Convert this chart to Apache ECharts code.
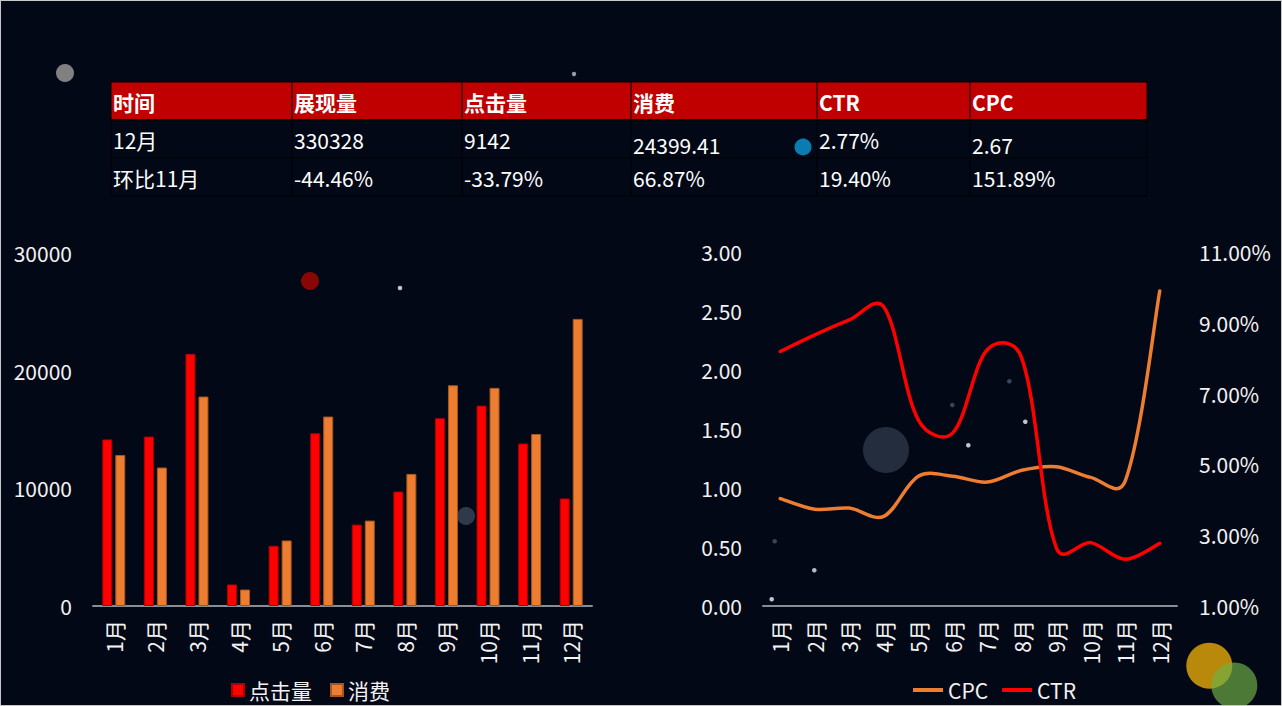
<!DOCTYPE html>
<html>
<head>
<meta charset="utf-8">
<script src="https://cdn.jsdelivr.net/npm/echarts@6/dist/echarts.min.js"></script>
<style>
html,body{margin:0;padding:0;background:#020816;}
#main{width:1282px;height:706px;}
</style>
</head>
<body>
<div id="main"></div>
<script>
// ---- data ----
const months = ['1月','2月','3月','4月','5月','6月','7月','8月','9月','10月','11月','12月'];
const clicks = [14160, 14400, 21430, 1830, 5120, 14680, 6920, 9730, 15960, 17030, 13810, 9142];
const spend  = [12830, 11770, 17800, 1400, 5570, 16100, 7260, 11230, 18760, 18540, 14620, 24399.41];
const cpc    = [0.91, 0.82, 0.83, 0.76, 1.10, 1.10, 1.05, 1.15, 1.18, 1.09, 1.06, 2.67];
const ctr    = [8.19, 8.66, 9.08, 9.45, 6.26, 5.89, 8.24, 8.00, 2.65, 2.79, 2.32, 2.77]; // percent
const leftTicks  = [0, 10000, 20000, 30000];
const cpcTicks   = [0, 0.5, 1, 1.5, 2, 2.5, 3];
const ctrTicks   = [1, 3, 5, 7, 9, 11];

const tableHeader = ['时间','展现量','点击量','消费','CTR','CPC'];
const tableRow12  = ['12月','330328','9142','24399.41','2.77%','2.67'];
const tableRowMoM = ['环比11月','-44.46%','-33.79%','66.87%','19.40%','151.89%'];

// ---- layout / style ----
const FONT = '"Noto Sans CJK SC", "Noto Sans", sans-serif';
const TXT = '#f2f2f2';
const AXIS = '#888d96';
const colEdges = [111, 292, 462, 631, 817, 970, 1147];
const rowEdges = [82, 120, 158, 196];
const cellDy = {'1-3': 5, '1-5': 5};
const SMOOTH = 1 / 3;

const graphics = [];
graphics.push({type:'rect', shape:{x:0, y:0, width:1282, height:706}, style:{fill:'none', stroke:'#c8c8c8', lineWidth:2}, silent:true});
graphics.push({type:'rect', shape:{x:colEdges[0], y:rowEdges[0], width:colEdges[6]-colEdges[0], height:rowEdges[1]-rowEdges[0]}, style:{fill:'#C00000'}});
for (let r = 0; r < rowEdges.length; r++) {
  graphics.push({type:'line', shape:{x1:colEdges[0], y1:rowEdges[r], x2:colEdges[6], y2:rowEdges[r]}, style:{stroke:'#000', lineWidth: r===1?2:1}});
}
for (let c = 0; c < colEdges.length; c++) {
  graphics.push({type:'line', shape:{x1:colEdges[c], y1:rowEdges[0], x2:colEdges[c], y2:rowEdges[3]}, style:{stroke:'#000', lineWidth:1}});
}
const rows = [tableHeader, tableRow12, tableRowMoM];
rows.forEach((row, r) => {
  row.forEach((t, c) => {
    const dy = cellDy[r + '-' + c] || 0;
    graphics.push({
      type:'text',
      x: colEdges[c] + 2,
      y: (rowEdges[r] + rowEdges[r+1]) / 2 + dy + 1,
      style:{text:t, fill:'#ffffff', font:(r===0?'bold ':'') + '21px ' + FONT, textVerticalAlign:'middle', textAlign:'left'}
    });
  });
});
const deco = [
  [65, 73, 9, '#808080'], [574, 74, 2.2, '#9a9a9a'], [803, 147, 8.5, '#0a7bb3'],
  [310, 281, 9, '#880606'], [400, 288, 2.3, '#c4c4c4'], [466, 516, 9, '#2e3a4c'],
  [886, 450, 23, '#232d3d'],
  [774.7, 541.3, 2.3, '#3a4458'], [814.3, 570.3, 2.3, '#b4b8c0'], [771.7, 599.3, 2.3, '#c0c4cc'],
  [952.3, 405, 2.3, '#3a4458'], [968.3, 445.3, 2.3, '#c0c4cc'], [1009.3, 381.3, 2.3, '#3a4458'],
  [1025.3, 421.7, 2.3, '#c0c4cc'],
  [1209.3, 665.7, 23, '#b8890a'], [1234.3, 685.5, 23, 'rgba(112,176,70,0.68)']
];
deco.forEach(d => graphics.push({type:'circle', shape:{cx:d[0], cy:d[1], r:d[2]}, style:{fill:d[3]}, silent:true, z:-1}));

// smooth line through the points, positioned by the axes' own coordinate mapping
function smoothLine(values, color) {
  return function (params, api) {
    if (params.dataIndex !== 0) return null;
    const p = values.map((v, i) => api.coord([i, v]));
    const n = p.length;
    const dist = (a, b) => Math.hypot(a[0] - b[0], a[1] - b[1]);
    const cin = [], cout = [];
    for (let i = 0; i < n; i++) {
      const prev = p[Math.max(i - 1, 0)], next = p[Math.min(i + 1, n - 1)];
      const vx = next[0] - prev[0], vy = next[1] - prev[1];
      let w0 = Math.sqrt(dist(p[i], prev)), w1 = Math.sqrt(dist(p[i], next));
      if (i === 0) { w0 = 1; w1 = 1; }
      if (i === n - 1) { w0 = 1; w1 = 1; }
      const s = w0 + w1 || 1;
      cin[i]  = [p[i][0] - vx * SMOOTH * w0 / s, p[i][1] - vy * SMOOTH * w0 / s];
      cout[i] = [p[i][0] + vx * SMOOTH * w1 / s, p[i][1] + vy * SMOOTH * w1 / s];
    }
    let d = 'M' + p[0][0] + ',' + p[0][1];
    for (let i = 0; i < n - 1; i++) {
      d += ' C' + cout[i][0] + ',' + cout[i][1] + ' ' + cin[i + 1][0] + ',' + cin[i + 1][1] + ' ' + p[i + 1][0] + ',' + p[i + 1][1];
    }
    return {type:'path', shape:{pathData:d}, style:{fill:'none', stroke:color, lineWidth:3.5, lineCap:'round', lineJoin:'round'}, silent:true};
  };
}

const chart = echarts.init(document.getElementById('main'), null, {renderer:'svg'});
const labelStyle = {color: TXT, fontSize: 21, fontFamily: FONT};
chart.setOption({
  backgroundColor: '#020816',
  animation: false,
  textStyle: {fontFamily: FONT},
  graphic: graphics,
  grid: [
    {left: 93, top: 253, width: 499, height: 353},
    {left: 763, top: 252, width: 414, height: 354}
  ],
  legend: [
    {left: 226, top: 674, itemWidth: 12, itemHeight: 12, itemGap: 18, icon: 'rect',
     textStyle: Object.assign({lineHeight: 22}, labelStyle), data: ['点击量','消费']},
    {left: 908, top: 674, itemWidth: 30, itemHeight: 4, itemGap: 14, icon: 'path://M0,0H30V4H0Z',
     textStyle: Object.assign({lineHeight: 22}, labelStyle), data: ['CPC','CTR']}
  ],
  xAxis: [
    {type:'category', gridIndex:0, data: months, axisTick:{show:false},
     axisLine:{lineStyle:{color:AXIS, width:2}},
     axisLabel: Object.assign({rotate:90, margin:14, interval:0}, labelStyle)},
    {type:'category', gridIndex:1, data: months, axisTick:{show:false},
     axisLine:{lineStyle:{color:AXIS, width:2}},
     axisLabel: Object.assign({rotate:90, margin:14, interval:0}, labelStyle)}
  ],
  yAxis: [
    {type:'value', gridIndex:0, min:0, max:30000, interval:10000, splitLine:{show:false},
     axisLine:{show:false}, axisTick:{show:false},
     axisLabel: Object.assign({margin:21, customValues: leftTicks, formatter: v => String(v)}, labelStyle)},
    {type:'value', gridIndex:1, min:0, max:3, interval:0.5, splitLine:{show:false},
     axisLine:{show:false}, axisTick:{show:false},
     axisLabel: Object.assign({margin:21, customValues: cpcTicks, formatter: v => v.toFixed(2)}, labelStyle)},
    {type:'value', gridIndex:1, position:'right', min:1, max:11, splitLine:{show:false},
     axisLine:{show:false}, axisTick:{show:false},
     axisLabel: Object.assign({margin:22, customValues: ctrTicks, formatter: v => v.toFixed(2) + '%'}, labelStyle)}
  ],
  series: [
    {name:'点击量', type:'bar', xAxisIndex:0, yAxisIndex:0, data: clicks, barWidth:10, barGap:'30%',
     itemStyle:{color:'#FF0000', borderColor:'#B00000', borderWidth:1}},
    {name:'消费', type:'bar', xAxisIndex:0, yAxisIndex:0, data: spend, barWidth:10,
     itemStyle:{color:'#ED7D31', borderColor:'#A8561E', borderWidth:1}},
    {name:'CPC', type:'custom', xAxisIndex:1, yAxisIndex:1, data: cpc.map((v, i) => [i, v]),
     itemStyle:{color:'#ED7D31'}, renderItem: smoothLine(cpc, '#ED7D31')},
    {name:'CTR', type:'custom', xAxisIndex:1, yAxisIndex:2, data: ctr.map((v, i) => [i, v]),
     itemStyle:{color:'#FF0000'}, renderItem: smoothLine(ctr, '#FF0000')}
  ]
});
</script>
</body>
</html>
